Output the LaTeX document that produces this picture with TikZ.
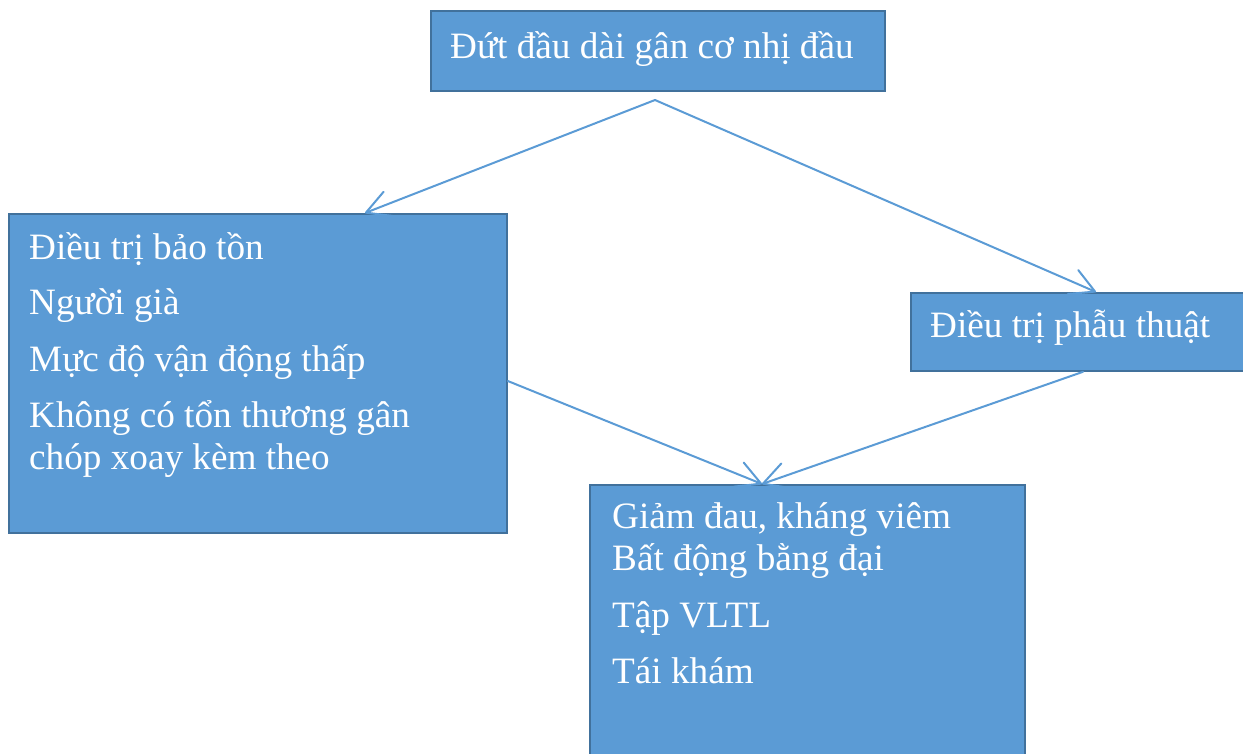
\documentclass[tikz,border=0pt]{standalone}
\usepackage{fontspec}
\setmainfont{Liberation Serif}
\usetikzlibrary{arrows.meta}
\definecolor{boxfill}{HTML}{5B9BD5}
\definecolor{boxedge}{HTML}{41719C}
\definecolor{linkblue}{HTML}{5B9BD5}
\begin{document}
\begin{tikzpicture}[x=1pt,y=-1pt,
  box/.style={draw=boxedge, line width=1.8pt, fill=boxfill, rectangle,
    inner sep=0pt, anchor=north west},
  txt/.style={anchor=base west, inner sep=0pt, text=white,
    font=\fontsize{37.2}{41}\selectfont},
  link/.style={draw=linkblue, line width=2pt, line cap=round,
    -{Straight Barb[length=24pt,width=26pt,round]}}]
\useasboundingbox (0,0) rectangle (1243,753);
\clip (0,0) rectangle (1243,753);
% boxes
\node[box, minimum width=454pt, minimum height=80pt] (top) at (430,10) {};
\node[box, minimum width=498pt, minimum height=319pt] (lb) at (8,213) {};
\node[box, minimum width=340pt, minimum height=78pt] (rb) at (910,292) {};
\node[box, minimum width=435pt, minimum height=280pt] (bb) at (589,484) {};
% texts
\node[txt] (t0) at (450,58) {Đứt đầu dài gân cơ nhị đầu};
\node[txt] (l1) at (29,259) {Điều trị bảo tồn};
\node[txt] (l2) at (29,314) {Người già};
\node[txt] (l3) at (29,371) {Mực độ vận động thấp};
\node[txt] (l4) at (29,427) {Không có tổn thương gân};
\node[txt] (l5) at (29,469) {chóp xoay kèm theo};
\node[txt] (r1) at (930,337) {Điều trị phẫu thuật};
\node[txt] (b1) at (612,528) {Giảm đau, kháng viêm};
\node[txt] (b2) at (612,570) {Bất động bằng đại};
\node[txt] (b3) at (612,627) {Tập VLTL};
\node[txt] (b4) at (612,683) {Tái khám};
% connectors
\coordinate (split) at (655,100);
\draw[link] (split) -- ([xshift=357pt]lb.north west);
\draw[link] (split) -- ([xshift=186pt]rb.north west);
\draw[link] ([yshift=-168pt]lb.north east) -- ([xshift=173pt]bb.north west);
\draw[link] ([xshift=173pt]rb.south west) -- ([xshift=173pt]bb.north west);
\end{tikzpicture}
\end{document}
